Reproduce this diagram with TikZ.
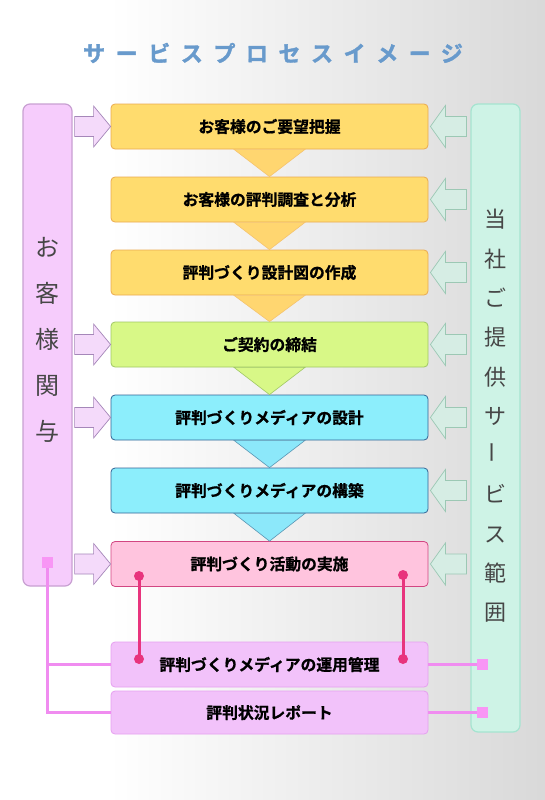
\documentclass[tikz,border=0pt]{standalone}
\usepackage{fontspec}
\setmainfont{Noto Sans CJK JP}
\newfontfamily\colfont{Noto Sans CJK JP}
\newfontfamily\heavyfont{Noto Sans CJK JP}[UprightFont={* Bold}, FakeBold=1.6]
\newfontfamily\boxfont{Noto Sans CJK JP}[UprightFont={* Bold}, FakeBold=0.9]
\pgfdeclarehorizontalshading{bgshade}{100bp}{color(0bp)=(white); color(25bp)=(white); color(35bp)=(white); color(75bp)=(gray!30); color(100bp)=(gray!30)}
\definecolor{yfill}{RGB}{255,220,110}
\definecolor{ydraw}{RGB}{235,170,80}
\definecolor{ytri}{RGB}{255,214,112}
\definecolor{ytridraw}{RGB}{245,195,110}
\definecolor{gfill}{RGB}{216,248,135}
\definecolor{gdraw}{RGB}{160,200,100}
\definecolor{cfill}{RGB}{140,238,252}
\definecolor{cdraw}{RGB}{50,100,150}
\definecolor{ctri}{RGB}{140,232,250}
\definecolor{ctridraw}{RGB}{90,150,180}
\definecolor{pfill}{RGB}{255,196,222}
\definecolor{pdraw}{RGB}{210,70,130}
\definecolor{vfill}{RGB}{242,194,250}
\definecolor{vdraw}{RGB}{230,160,240}
\definecolor{vline}{RGB}{240,140,240}
\definecolor{vsq}{RGB}{248,150,245}
\definecolor{mag}{RGB}{232,52,125}
\definecolor{lcfill}{RGB}{246,204,252}
\definecolor{lcdraw}{RGB}{200,160,210}
\definecolor{rcfill}{RGB}{206,243,230}
\definecolor{rcdraw}{RGB}{165,228,208}
\definecolor{coltext}{RGB}{70,70,70}
\definecolor{titleblue}{RGB}{104,154,204}
\definecolor{inafill}{RGB}{244,218,250}
\definecolor{inadraw}{RGB}{165,135,185}
\definecolor{outafill}{RGB}{214,237,228}
\definecolor{outadraw}{RGB}{156,200,180}
\begin{document}
\begin{tikzpicture}[x=1pt,y=-1pt,
  procbox/.style={draw, rounded corners=4pt, minimum width=317pt, minimum height=45pt, inner sep=0pt, line width=0.8pt, font=\boxfont\fontsize{15.8}{17}\selectfont},
  ybox/.style={procbox, fill=yfill, draw=ydraw},
  gbox/.style={procbox, fill=gfill, draw=gdraw},
  cbox/.style={procbox, fill=cfill, draw=cdraw},
  pbox/.style={procbox, fill=pfill, draw=pdraw},
  vbox/.style={procbox, fill=vfill, draw=vdraw},
  ytristyle/.style={fill=ytri, draw=ytridraw, line width=0.6pt},
  gtristyle/.style={fill=gfill, draw=gdraw, line width=0.6pt},
  ctristyle/.style={fill=ctri, draw=ctridraw, line width=0.6pt},
  inarrowstyle/.style={fill=inafill, draw=inadraw, line width=0.7pt, line join=miter},
  outarrowstyle/.style={fill=outafill, draw=outadraw, line width=0.7pt, line join=miter},
  inarrow/.pic={\draw[inarrowstyle] (0,0) -- (-17,-20.5) -- (-17,-10) -- (-36,-10) -- (-36,10) -- (-17,10) -- (-17,20.5) -- cycle;},
  outarrow/.pic={\draw[outarrowstyle] (0,0) -- (15,-21) -- (15,-10) -- (36,-10) -- (36,10) -- (15,10) -- (15,21) -- cycle;},
  colbox/.style={draw, rounded corners=7pt, minimum width=49pt, inner sep=0pt, line width=1.2pt},
  rtext/.style={text=coltext, align=center, inner sep=0pt, font=\colfont\fontsize{22}{39.3}\selectfont},
  vconn/.style={draw=vline, line width=3pt},
  mconn/.style={draw=mag, line width=3pt},
  sqnode/.style={fill=vsq, minimum size=11pt, inner sep=0pt},
  dotnode/.style={circle, fill=mag, minimum size=10pt, inner sep=0pt}
]
\useasboundingbox (0,0) rectangle (545,800);
\shade[shading=bgshade] (0,0) rectangle (545,800);

% title
\node[text=titleblue, font=\heavyfont\fontsize{22}{24}\selectfont\addfontfeature{LetterSpace=48}] (title) at (273,53) {サービスプロセスイメージ};

% side columns
\node[colbox, fill=lcfill, draw=lcdraw, minimum height=482pt] (cust) at (47.5,345) {};
\node[colbox, fill=rcfill, draw=rcdraw, minimum height=628pt] (scope) at (495.5,418) {};
\node[text=coltext, align=center, font=\colfont\fontsize{24}{46}\selectfont] (custtext) at (47.5,340) {お\\客\\様\\関\\与};
\node[rtext] (scopetexta) at (495.5,317.5) {当\\社\\ご\\提\\供\\サ};
\node[rtext, rotate=90] (scopetextb) at (495.5,452.8) {ー};
\node[rtext] (scopetextc) at (495.5,553.5) {ビ\\ス\\範\\囲};

% process boxes
\node[ybox] (b1) at (269.5,126.5) {お客様のご要望把握};
\node[ybox] (b2) at (269.5,199.5) {お客様の評判調査と分析};
\node[ybox] (b3) at (269.5,272.5) {評判づくり設計図の作成};
\node[gbox] (b4) at (269.5,344.5) {ご契約の締結};
\node[cbox] (b5) at (269.5,417.5) {評判づくりメディアの設計};
\node[cbox] (b6) at (269.5,490.5) {評判づくりメディアの構築};
\node[pbox] (b7) at (269.5,564) {評判づくり活動の実施};
\node[vbox] (b8) at (269.5,664.5) {評判づくりメディアの運用管理};
\node[vbox, minimum height=43pt] (b9) at (269.5,712.5) {評判状況レポート};

% triangles between boxes
\draw[ytristyle] ([xshift=-35.5pt]b1.south) -- ([xshift=35.5pt]b1.south) -- (b2.north) -- cycle;
\draw[ytristyle] ([xshift=-35.5pt]b2.south) -- ([xshift=35.5pt]b2.south) -- (b3.north) -- cycle;
\draw[ytristyle] ([xshift=-35.5pt]b3.south) -- ([xshift=35.5pt]b3.south) -- (b4.north) -- cycle;
\draw[gtristyle] ([xshift=-35.5pt]b4.south) -- ([xshift=35.5pt]b4.south) -- (b5.north) -- cycle;
\draw[ctristyle] ([xshift=-35.5pt]b5.south) -- ([xshift=35.5pt]b5.south) -- (b6.north) -- cycle;
\draw[ctristyle] ([xshift=-35.5pt]b6.south) -- ([xshift=35.5pt]b6.south) -- (b7.north) -- cycle;

% block arrows
\foreach \b in {b1,b4,b5,b7} { \pic at (\b.west) {inarrow}; }
\foreach \b in {b1,b2,b3,b4,b5,b6,b7} { \pic at ([xshift=2pt]\b.east) {outarrow}; }

% connectors
\node[sqnode] (lsq) at (47.5,562.5) {};
\node[sqnode] (rsq1) at (482,664.5) {};
\node[sqnode] (rsq2) at (482,712.5) {};
\draw[vconn] (lsq.center) |- (b8.west);
\draw[vconn] (lsq.center) |- (b9.west);
\draw[vconn] (b8.east) -- (rsq1.center);
\draw[vconn] (b9.east) -- (rsq2.center);
\node[sqnode] at (lsq) {};
\node[sqnode] at (rsq1) {};
\node[sqnode] at (rsq2) {};

\node[dotnode] (d1) at (139,576) {};
\node[dotnode] (d2) at (139,659) {};
\node[dotnode] (d3) at (403,575) {};
\node[dotnode] (d4) at (403,659) {};
\draw[mconn] (d1.center) -- (d2.center);
\draw[mconn] (d3.center) -- (d4.center);
\end{tikzpicture}
\end{document}
